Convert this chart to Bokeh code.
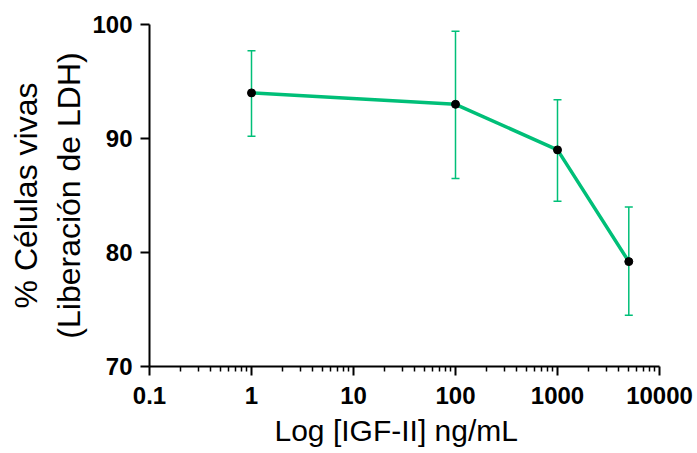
from bokeh.plotting import figure
from bokeh.models import ColumnDataSource, Whisker, TeeHead, FixedTicker, Range1d, Title
from bokeh.embed import file_html
from bokeh.resources import INLINE

# Data
conc = [1, 100, 1000, 5000]
viability = [94.0, 93.0, 89.0, 79.2]
err_upper = [97.7, 99.4, 93.4, 84.0]
err_lower = [90.2, 86.5, 84.5, 74.5]
x_tick_values = [0.1, 1, 10, 100, 1000, 10000]
x_tick_labels = ["0.1", "1", "10", "100", "1000", "10000"]
y_tick_values = [70, 80, 90, 100]

GREEN = "#00BF78"
FONT = "Liberation Sans"

p = figure(width=697, height=453, x_axis_type="log",
           x_range=Range1d(0.1, 10000), y_range=Range1d(70, 100),
           output_backend="svg", toolbar_location=None,
           min_border_left=149, min_border_right=38, min_border_top=24, min_border_bottom=87)
p.outline_line_color = None
p.grid.visible = False
p.background_fill_color = "white"
p.border_fill_color = "white"

src = ColumnDataSource(dict(x=conc, y=viability, upper=err_upper, lower=err_lower))

w = Whisker(base="x", upper="upper", lower="lower", source=src,
            line_color=GREEN, line_width=1.5,
            upper_head=TeeHead(size=8, line_color=GREEN, line_width=1.5),
            lower_head=TeeHead(size=8, line_color=GREEN, line_width=1.5))
p.add_layout(w)
p.line("x", "y", source=src, line_color=GREEN, line_width=3.5)
p.scatter("x", "y", source=src, size=8, color="black")

minor = []
for t in x_tick_values[:-1]:
    for k in range(2, 10):
        minor.append(t * k)
p.xaxis.ticker = FixedTicker(ticks=x_tick_values, minor_ticks=minor)
p.xaxis.major_label_overrides = {v: l for v, l in zip(x_tick_values, x_tick_labels)}
p.yaxis.ticker = FixedTicker(ticks=y_tick_values, minor_ticks=[])

for ax in (p.xaxis[0], p.yaxis[0]):
    ax.axis_line_width = 2
    ax.axis_line_color = "black"
    ax.major_tick_line_width = 2
    ax.major_tick_line_color = "black"
    ax.minor_tick_line_width = 1.5
    ax.minor_tick_line_color = "black"
    ax.major_tick_out = 9
    ax.major_tick_in = 0
    ax.minor_tick_out = 5
    ax.minor_tick_in = 0
    ax.major_label_text_font = FONT
    ax.major_label_text_font_style = "bold"
    ax.major_label_text_font_size = "24px"
    ax.major_label_text_color = "black"
    ax.axis_label_text_font = FONT
    ax.axis_label_text_font_style = "normal"
    ax.axis_label_text_color = "black"

p.yaxis.axis_label = "% Células vivas\n(Liberación de LDH)"
p.yaxis.axis_label_text_font_size = "32px"
p.xaxis.major_label_standoff = 11
p.yaxis.major_label_standoff = 8
p.yaxis.axis_label_standoff = 2

xtitle = Title(text="Log [IGF-II] ng/mL", align="left", offset=125,
               text_font=FONT, text_font_style="normal", text_font_size="30px",
               text_color="black", standoff=11)
p.add_layout(xtitle, "below")

open("out.html", "w").write(file_html(p, INLINE))
